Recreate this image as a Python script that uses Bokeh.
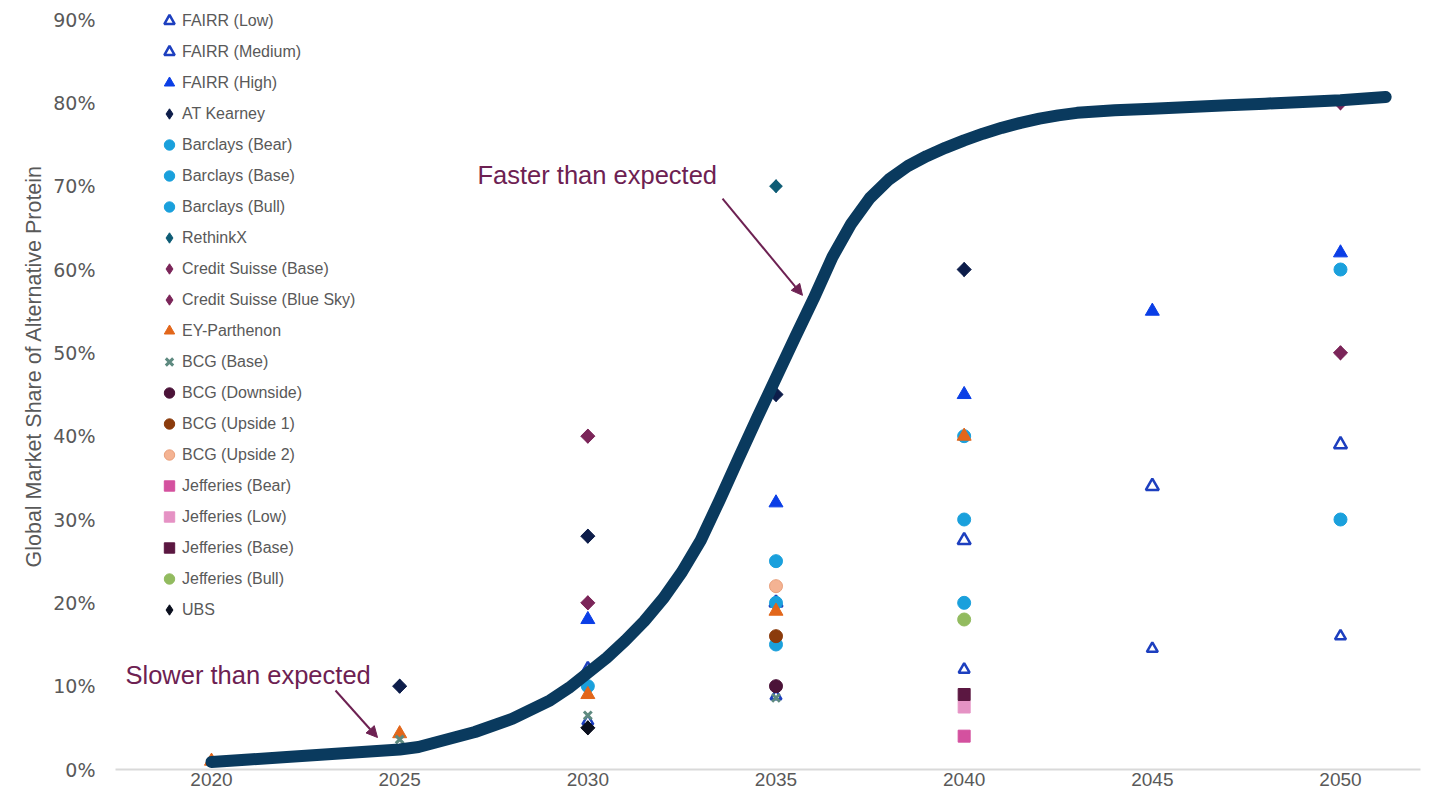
import math
from bokeh.plotting import figure
from bokeh.models import (Range1d, Legend, LegendItem, Label, Arrow, NormalHead,
                          FixedTicker, NumeralTickFormatter, Title)
from bokeh.embed import file_html
from bokeh.resources import INLINE

# ---------------- data ----------------
X_TICKS = [2020, 2025, 2030, 2035, 2040, 2045, 2050]
Y_TICKS = [0.0, 0.1, 0.2, 0.3, 0.4, 0.5, 0.6, 0.7, 0.8, 0.9]

FAIRR_YEARS = [2030, 2035, 2040, 2045, 2050]
FAIRR_LOW = [0.058, 0.088, 0.12, 0.145, 0.16]
FAIRR_MEDIUM = [0.12, 0.20, 0.275, 0.34, 0.39]
FAIRR_HIGH = [0.18, 0.32, 0.45, 0.55, 0.62]

AT_KEARNEY_YEARS = [2025, 2030, 2035, 2040]
AT_KEARNEY = [0.10, 0.28, 0.45, 0.60]

BARCLAYS_BEAR_YEARS = [2030, 2035, 2040, 2050]
BARCLAYS_BEAR = [0.10, 0.15, 0.20, 0.30]
BARCLAYS_BASE_YEARS = [2035, 2040]
BARCLAYS_BASE = [0.20, 0.30]
BARCLAYS_BULL_YEARS = [2035, 2040, 2050]
BARCLAYS_BULL = [0.25, 0.40, 0.60]

RETHINKX_YEARS = [2035]
RETHINKX = [0.70]

CS_BASE_YEARS = [2030, 2050]
CS_BASE = [0.20, 0.50]
CS_BLUE_SKY_YEARS = [2030, 2050]
CS_BLUE_SKY = [0.40, 0.80]

EY_YEARS = [2020, 2025, 2030, 2035, 2040]
EY_PARTHENON = [0.010, 0.043, 0.09, 0.19, 0.40]

BCG_BASE_YEARS = [2020, 2025, 2030, 2035]
BCG_BASE = [0.009, 0.036, 0.065, 0.086]
BCG_DOWNSIDE_YEARS = [2035]
BCG_DOWNSIDE = [0.10]
BCG_UPSIDE1_YEARS = [2035]
BCG_UPSIDE1 = [0.16]
BCG_UPSIDE2_YEARS = [2035]
BCG_UPSIDE2 = [0.22]

JEFFERIES_YEARS = [2040]
JEFFERIES_BEAR = [0.04]
JEFFERIES_LOW = [0.075]
JEFFERIES_BASE = [0.09]
JEFFERIES_BULL = [0.18]

UBS_YEARS = [2030]
UBS = [0.05]

CURVE_YEARS = [2020, 2021, 2022, 2023, 2024, 2025, 2025.5, 2026, 2027, 2028, 2029, 2029.5,
               2030, 2030.5, 2031, 2031.5, 2032, 2032.5, 2033, 2033.5, 2034, 2034.5,
               2035, 2035.5, 2036, 2036.5, 2037, 2037.5, 2038, 2038.5, 2039, 2039.5,
               2040, 2040.5, 2041, 2041.5, 2042, 2042.5, 2043, 2044, 2045, 2046, 2047,
               2048, 2049, 2050, 2051.2]
CURVE_SHARE = [0.009, 0.012, 0.015, 0.018, 0.021, 0.024, 0.027, 0.033, 0.045, 0.061, 0.083, 0.098,
               0.116, 0.134, 0.155, 0.178, 0.205, 0.237, 0.275, 0.323, 0.373, 0.422,
               0.47, 0.518, 0.565, 0.615, 0.655, 0.686, 0.708, 0.724, 0.736, 0.746,
               0.755, 0.763, 0.770, 0.776, 0.781, 0.785, 0.788, 0.791, 0.793, 0.795, 0.797,
               0.799, 0.801, 0.803, 0.807]

SERIES = [
    ("FAIRR (Low)", FAIRR_YEARS, FAIRR_LOW),
    ("FAIRR (Medium)", FAIRR_YEARS, FAIRR_MEDIUM),
    ("FAIRR (High)", FAIRR_YEARS, FAIRR_HIGH),
    ("AT Kearney", AT_KEARNEY_YEARS, AT_KEARNEY),
    ("Barclays (Bear)", BARCLAYS_BEAR_YEARS, BARCLAYS_BEAR),
    ("Barclays (Base)", BARCLAYS_BASE_YEARS, BARCLAYS_BASE),
    ("Barclays (Bull)", BARCLAYS_BULL_YEARS, BARCLAYS_BULL),
    ("RethinkX", RETHINKX_YEARS, RETHINKX),
    ("Credit Suisse (Base)", CS_BASE_YEARS, CS_BASE),
    ("Credit Suisse (Blue Sky)", CS_BLUE_SKY_YEARS, CS_BLUE_SKY),
    ("EY-Parthenon", EY_YEARS, EY_PARTHENON),
    ("BCG (Base)", BCG_BASE_YEARS, BCG_BASE),
    ("BCG (Downside)", BCG_DOWNSIDE_YEARS, BCG_DOWNSIDE),
    ("BCG (Upside 1)", BCG_UPSIDE1_YEARS, BCG_UPSIDE1),
    ("BCG (Upside 2)", BCG_UPSIDE2_YEARS, BCG_UPSIDE2),
    ("Jefferies (Bear)", JEFFERIES_YEARS, JEFFERIES_BEAR),
    ("Jefferies (Low)", JEFFERIES_YEARS, JEFFERIES_LOW),
    ("Jefferies (Base)", JEFFERIES_YEARS, JEFFERIES_BASE),
    ("Jefferies (Bull)", JEFFERIES_YEARS, JEFFERIES_BULL),
    ("UBS", UBS_YEARS, UBS),
]

# ---------------- styles ----------------
Q = math.pi / 4


def diamond(color, size=10):
    return dict(marker="square", angle=Q, size=size, fill_color=color, line_color=color, line_width=1)


def dot(color, line=None, size=13):
    return dict(marker="circle", size=size, fill_color=color, line_color=line or color, line_width=1)


def sq(color):
    return dict(marker="square", size=12, fill_color=color, line_color=color, line_width=1)


STYLES = {
    "FAIRR (Low)": dict(marker="triangle", size=11, fill_color="white", line_color="#1d3fbf", line_width=2.5),
    "FAIRR (Medium)": dict(marker="triangle", size=13, fill_color="white", line_color="#1d3fbf", line_width=2.5),
    "FAIRR (High)": dict(marker="triangle", size=14, fill_color="#0a3ee6", line_color="#0a3ee6", line_width=1),
    "AT Kearney": diamond("#0d1d4a"),
    "Barclays (Bear)": dot("#1aa0dc"),
    "Barclays (Base)": dot("#1aa0dc"),
    "Barclays (Bull)": dot("#1aa0dc"),
    "RethinkX": diamond("#0e5c75", 9),
    "Credit Suisse (Base)": diamond("#7b2559"),
    "Credit Suisse (Blue Sky)": diamond("#7b2559"),
    "EY-Parthenon": dict(marker="triangle", size=14, fill_color="#e2661a", line_color="#e2661a", line_width=1),
    "BCG (Base)": dict(marker="x", size=11, line_color="#5e8a80", line_width=3),
    "BCG (Downside)": dot("#4b1338"),
    "BCG (Upside 1)": dot("#8b3b0c"),
    "BCG (Upside 2)": dot("#f4b393", "#e9a07c"),
    "Jefferies (Bear)": sq("#d4519f"),
    "Jefferies (Low)": sq("#e592c4"),
    "Jefferies (Base)": sq("#5b1741"),
    "Jefferies (Bull)": dot("#92bb5f"),
    "UBS": diamond("#0a0f1e"),
}

GREY = "#595959"
ANNOT = "#6d2152"
CURVE_COLOR = "#0a3a5e"

p = figure(frame_width=1305, frame_height=769, output_backend="svg", toolbar_location=None,
           x_range=Range1d(2017.449, 2052.126), y_range=Range1d(0, 0.9228),
           min_border_left=115, min_border_right=6, min_border_top=0, min_border_bottom=23)
p.outline_line_color = None
p.xgrid.grid_line_color = None
p.ygrid.grid_line_color = None
p.background_fill_color = "white"
p.border_fill_color = "white"

# axes
p.xaxis.ticker = FixedTicker(ticks=X_TICKS)
p.xaxis.axis_line_color = "#d9d9d9"
p.xaxis.axis_line_width = 2
p.xaxis.major_tick_line_color = None
p.xaxis.minor_tick_line_color = None
p.xaxis.major_tick_out = 0
p.xaxis.major_label_text_font = "Liberation Sans"
p.xaxis.major_label_text_font_size = "19px"
p.xaxis.major_label_text_color = GREY
p.xaxis.major_label_standoff = 3

p.yaxis.ticker = FixedTicker(ticks=Y_TICKS)
p.yaxis.formatter = NumeralTickFormatter(format="0%")
p.yaxis.axis_line_color = None
p.yaxis.major_tick_line_color = None
p.yaxis.minor_tick_line_color = None
p.yaxis.major_tick_out = 0
p.yaxis.major_label_text_font = "DejaVu Sans"
p.yaxis.major_label_text_font_size = "19px"
p.yaxis.major_label_text_color = GREY
p.yaxis.major_label_standoff = 20

# y axis title as a left-side title, placed where the original has it
p.add_layout(Title(text="Global Market Share of Alternative Protein", align="left", offset=202,
                   standoff=10, text_font="Liberation Sans", text_font_size="21.5px",
                   text_font_style="normal", text_color=GREY), "left")

items = []
for name, xs, ys in SERIES:
    st = STYLES[name]
    if st.get("angle"):
        # diamond glyph underneath (hidden by the rotated square) provides the legend swatch
        lr = p.scatter(x=xs, y=ys, marker="diamond", size=st["size"] + 4,
                       fill_color=st["fill_color"], line_color=st["line_color"], line_width=1)
        p.scatter(x=xs, y=ys, **st)
        items.append(LegendItem(label=name, renderers=[lr]))
    else:
        r = p.scatter(x=xs, y=ys, **st)
        items.append(LegendItem(label=name, renderers=[r]))

# curve on top
p.line(x=CURVE_YEARS, y=CURVE_SHARE, line_color=CURVE_COLOR, line_width=12,
       line_cap="round", line_join="round")

legend = Legend(items=items, location=(41, 146), orientation="vertical",
                padding=0, margin=0, spacing=4, glyph_width=26, glyph_height=27,
                label_height=27, label_standoff=-3,
                label_text_font="Liberation Sans", label_text_font_size="16px",
                label_text_color=GREY, background_fill_alpha=0, border_line_color=None)
p.add_layout(legend)

# annotations
p.add_layout(Label(x=2027.068, y=0.714, text="Faster than expected", text_font="Liberation Sans",
                   text_font_size="25.5px", text_color=ANNOT, text_baseline="middle", text_align="left"))
p.add_layout(Label(x=2017.715, y=0.114, text="Slower than expected", text_font="Liberation Sans",
                   text_font_size="25.5px", text_color=ANNOT, text_baseline="middle", text_align="left"))
p.add_layout(Arrow(end=NormalHead(size=11, fill_color=ANNOT, line_color=ANNOT),
                   x_start=2033.579, y_start=0.685, x_end=2035.704, y_end=0.569,
                   line_color=ANNOT, line_width=2))
p.add_layout(Arrow(end=NormalHead(size=11, fill_color=ANNOT, line_color=ANNOT),
                   x_start=2023.295, y_start=0.0948, x_end=2024.411, y_end=0.0384,
                   line_color=ANNOT, line_width=2))

open("out.html", "w").write(file_html(p, INLINE))
